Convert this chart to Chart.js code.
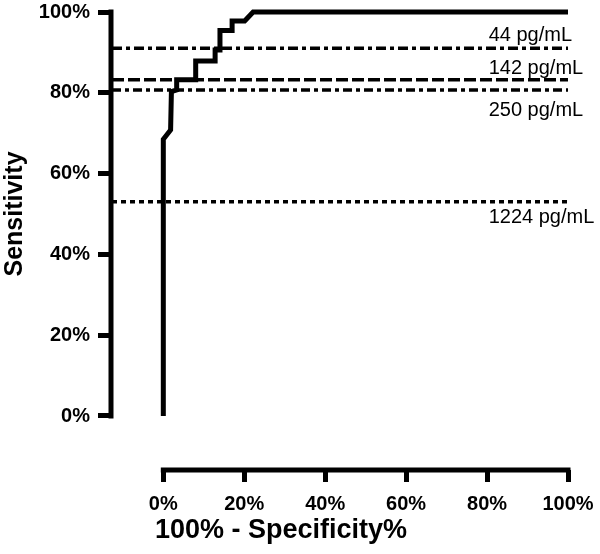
<!DOCTYPE html>
<html>
<head>
<meta charset="utf-8">
<script src="https://cdn.jsdelivr.net/npm/chart.js@4.4.1/dist/chart.umd.min.js"></script>
<style>
  html, body { margin: 0; padding: 0; background: #fff; }
  canvas { display: block; }
</style>
</head>
<body>
<canvas id="rocChart" width="600" height="554"></canvas>
<script>
// ROC curve (100% - specificity, sensitivity)
const rocX = [0, 0, 1.8, 2.0, 3.3, 3.3, 8.0, 8.0, 12.8, 12.8, 14.0, 14.0, 17.0, 17.0, 20.1, 22.2, 100];
const rocY = [0, 68.5, 70.8, 80.3, 80.7, 83.2, 83.2, 87.9, 87.9, 90.6, 90.6, 95.4, 95.4, 97.8, 97.8, 100, 100];

// cut-off values and the sensitivity at each
const cutoffLabels = ['44 pg/mL', '142 pg/mL', '250 pg/mL', '1224 pg/mL'];
const cutoffSens = [91.0, 83.2, 80.7, 53.0];

const tickValues = [0, 20, 40, 60, 80, 100];

// styling for the cut-off lines
const cutoffDash = [[10, 4, 4, 4], [12, 4], [9, 4, 4, 4], [5, 4]];
const labelShift = [-7, -6, 26, 21];

const xMin = -12.68;
const yMin = -13.37;
const FONT = '"Liberation Sans", Arial, Helvetica, sans-serif';

const datasets = [{
    data: rocX.map((x, i) => ({ x: x, y: rocY[i] })),
    borderColor: '#000',
    borderWidth: 5,
    borderJoinStyle: 'miter',
    pointRadius: 0,
    tension: 0,
    clip: false
}];
cutoffSens.forEach((s, i) => {
    datasets.push({
        data: [{ x: xMin, y: s }, { x: 100, y: s }],
        borderColor: '#000',
        borderWidth: 3.5,
        borderDash: cutoffDash[i],
        pointRadius: 0,
        clip: false
    });
});

const offsetAxes = {
    id: 'offsetAxes',
    afterDraw(chart) {
        const ctx = chart.ctx;
        const x = chart.scales.x;
        const y = chart.scales.y;
        ctx.save();
        ctx.strokeStyle = '#000';
        ctx.lineWidth = 5;
        ctx.lineCap = 'square';
        ctx.beginPath();
        ctx.moveTo(x.left - 1, y.getPixelForValue(0));
        ctx.lineTo(x.left - 1, y.getPixelForValue(100));
        ctx.moveTo(x.getPixelForValue(0), y.bottom);
        ctx.lineTo(x.getPixelForValue(100), y.bottom);
        ctx.stroke();

        // cut-off labels
        ctx.fillStyle = '#000';
        ctx.font = '20px ' + FONT;
        ctx.textAlign = 'left';
        ctx.textBaseline = 'alphabetic';
        cutoffLabels.forEach((t, i) => {
            ctx.fillText(t, x.getPixelForValue(80.4), y.getPixelForValue(cutoffSens[i]) + labelShift[i]);
        });

        // axis titles
        ctx.font = 'bold 27px ' + FONT;
        ctx.textAlign = 'center';
        ctx.fillText('100% - Specificity%', 281, 538);
        ctx.font = 'bold 25px ' + FONT;
        ctx.translate(22, (y.getPixelForValue(0) + y.getPixelForValue(100)) / 2);
        ctx.rotate(-Math.PI / 2);
        ctx.fillText('Sensitivity', 0, 0);
        ctx.restore();
    }
};

function noPad(s) {
    s.paddingTop = 0;
    s.paddingBottom = 0;
    s.paddingLeft = 0;
    s.paddingRight = 0;
}

const ctx = document.getElementById('rocChart').getContext('2d');
const chart = new Chart(ctx, {
    type: 'line',
    data: { datasets: datasets },
    plugins: [offsetAxes],
    options: {
        responsive: false,
        animation: false,
        layout: { padding: { top: 12, right: 32, bottom: 0, left: 0 } },
        plugins: { legend: { display: false }, tooltip: { enabled: false } },
        scales: {
            x: {
                type: 'linear',
                min: xMin,
                max: 100,
                afterBuildTicks: s => { s.ticks = tickValues.map(v => ({ value: v })); },
                afterFit: s => { s.height = 84; noPad(s); },
                border: { display: false },
                grid: { drawOnChartArea: false, drawTicks: true, tickLength: 12, lineWidth: 5, color: '#000' },
                ticks: {
                    color: '#000',
                    padding: 10,
                    maxRotation: 0,
                    font: { family: FONT, size: 20, weight: 'bold' },
                    callback: v => v + '%'
                }
            },
            y: {
                type: 'linear',
                min: yMin,
                max: 100,
                afterBuildTicks: s => { s.ticks = tickValues.map(v => ({ value: v })); },
                afterFit: s => { s.width = 112; noPad(s); },
                border: { display: false },
                grid: { drawOnChartArea: false, drawTicks: true, tickLength: 14, lineWidth: 5, color: '#000' },
                ticks: {
                    color: '#000',
                    padding: 8,
                    font: { family: FONT, size: 20, weight: 'bold' },
                    callback: v => v + '%'
                }
            }
        }
    }
});
</script>
</body>
</html>
